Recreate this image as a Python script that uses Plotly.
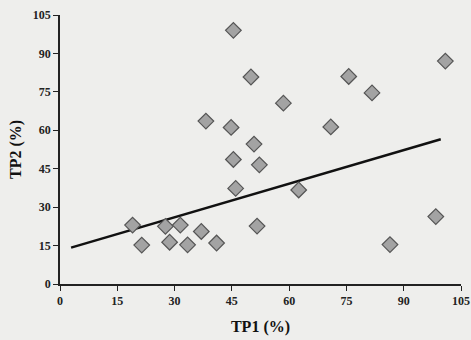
import plotly.graph_objects as go

# TP1 (%) and TP2 (%) values
tp1 = [45.4, 100.9, 50.0, 75.6, 81.7, 58.5, 38.2, 44.8, 70.9, 50.8, 45.4, 52.2, 46.0,
       62.5, 51.6, 19.0, 21.4, 27.6, 31.5, 28.7, 33.4, 37.0, 41.0, 98.4, 86.4]
tp2 = [99.0, 87.0, 80.8, 81.0, 74.6, 70.6, 63.6, 61.1, 61.3, 54.6, 48.6, 46.5, 37.3,
       36.7, 22.6, 23.0, 15.2, 22.5, 23.0, 16.3, 15.3, 20.5, 16.0, 26.3, 15.4]

# regression line end points
trend_x = [2.9, 99.7]
trend_y = [14.2, 56.5]

tick_vals = [0, 15, 30, 45, 60, 75, 90, 105]
tick_text = ["0", "15", "30", "45", "60", "75", "90", "105"]

fig = go.Figure()
fig.add_trace(go.Scatter(
    x=trend_x, y=trend_y, mode="lines",
    line=dict(color="#111111", width=2.5), showlegend=False, hoverinfo="skip"))
fig.add_trace(go.Scatter(
    x=tp1, y=tp2, mode="markers",
    marker=dict(symbol="diamond", size=12, color="#a3a3a3",
                line=dict(color="#555555", width=1.2)),
    showlegend=False))

font_serif = "Liberation Serif"
axis_common = dict(
    range=[0, 105], tickvals=tick_vals, ticktext=["<b>%s</b>" % t for t in tick_text],
    showgrid=False, zeroline=False, showline=True, linecolor="#222222", linewidth=1.5,
    ticks="outside", ticklen=5, tickcolor="#222222", tickwidth=1.2,
    tickfont=dict(family=font_serif, size=12, color="#222222"),
    fixedrange=True, automargin=False,
)

fig.update_layout(
    width=471, height=340,
    margin=dict(l=60, r=10, t=15, b=56),
    paper_bgcolor="#eeeeec", plot_bgcolor="#eeeeec",
    xaxis=dict(**axis_common,
               title=dict(text="<b>TP1 (%)</b>", standoff=14,
                          font=dict(family=font_serif, size=16, color="#111111"))),
    yaxis=dict(**axis_common,
               title=dict(text="<b>TP2 (%)</b>", standoff=7,
                          font=dict(family=font_serif, size=16, color="#111111"))),
)

fig.write_html("out.html", config={"displayModeBar": False},
               post_script="document.body.style.margin='0';")
